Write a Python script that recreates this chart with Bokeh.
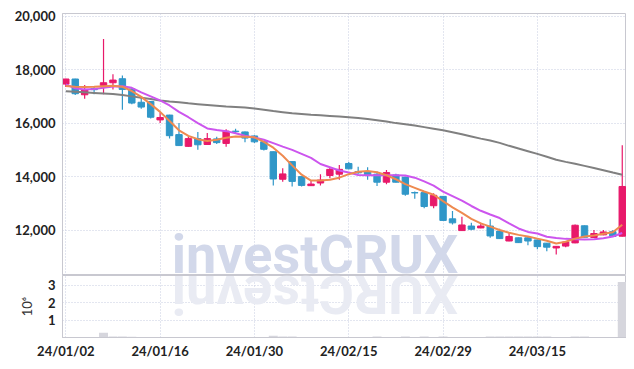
import math
from bokeh.plotting import figure
from bokeh.layouts import column
from bokeh.models import ColumnDataSource, Range1d, FixedTicker, NumeralTickFormatter, Label
from bokeh.embed import file_html
from bokeh.resources import INLINE

# ---------------- data ----------------
dates = ["24/01/02", "24/01/03", "24/01/04", "24/01/05", "24/01/08", "24/01/09", "24/01/10", "24/01/11", "24/01/12", "24/01/15",
         "24/01/16", "24/01/17", "24/01/18", "24/01/19", "24/01/22", "24/01/23", "24/01/24", "24/01/25", "24/01/26", "24/01/29",
         "24/01/30", "24/01/31", "24/02/01", "24/02/02", "24/02/05", "24/02/06", "24/02/07", "24/02/08", "24/02/13", "24/02/14",
         "24/02/15", "24/02/16", "24/02/19", "24/02/20", "24/02/21", "24/02/22", "24/02/23", "24/02/26", "24/02/27", "24/02/28",
         "24/02/29", "24/03/04", "24/03/05", "24/03/06", "24/03/07", "24/03/08", "24/03/11", "24/03/12", "24/03/13", "24/03/14",
         "24/03/15", "24/03/18", "24/03/19", "24/03/20", "24/03/21", "24/03/22", "24/03/25", "24/03/26", "24/03/27", "24/03/28"]

open_ = [17460, 17650, 17060, 17290, 17410, 17510, 17660, 17280, 16780, 16810,
         16120, 16300, 15570, 15130, 15420, 15200, 15410, 15240, 15700, 15670,
         15520, 15300, 14930, 13900, 14560, 14000, 13660, 13760, 14040, 14090,
         14490, 14190, 14190, 14090, 13790, 14060, 13980, 13400, 13400, 12910,
         13260, 12420, 11980, 12150, 12080, 12150, 11960, 11590, 11710, 11710,
         11630, 11510, 11330, 11400, 11520, 12160, 11720, 11820, 11940, 11770]
high = [17660, 17660, 17430, 17360, 19150, 17830, 17780, 17300, 17000, 16820,
        16400, 16310, 16000, 15510, 15670, 15630, 15490, 15770, 15790, 15690,
        15550, 15310, 14940, 14310, 14560, 14000, 13850, 14090, 14330, 14430,
        14550, 14370, 14350, 14190, 14250, 14110, 13990, 13440, 13410, 13380,
        13270, 12710, 12500, 12270, 12270, 12400, 12050, 11900, 11720, 11780,
        11650, 11520, 11400, 11560, 12210, 12170, 12000, 12000, 12000, 15170]
low = [17350, 17050, 16910, 17080, 17080, 17260, 16500, 16710, 16540, 16170,
       16000, 15420, 15150, 15120, 15000, 15200, 15220, 15120, 15610, 15280,
       15260, 14980, 13670, 13810, 13630, 13630, 13650, 13670, 13940, 13880,
       14270, 14110, 13880, 13650, 13710, 13780, 13280, 13170, 12820, 12820,
       12350, 12210, 11970, 11990, 12070, 11710, 11670, 11580, 11520, 11430,
       11280, 11210, 11090, 11360, 11510, 11720, 11710, 11810, 11750, 11760]
close = [17650, 17100, 17260, 17250, 17510, 17610, 17260, 16750, 16600, 16220,
         16210, 15530, 15160, 15420, 15190, 15420, 15270, 15700, 15680, 15440,
         15300, 15020, 13910, 14100, 13820, 13670, 13720, 13870, 14270, 14270,
         14290, 14140, 14040, 13790, 14150, 13790, 13340, 13390, 12880, 13300,
         12360, 12270, 12190, 12030, 12150, 11780, 11680, 11760, 11530, 11590,
         11380, 11360, 11390, 11550, 12180, 11730, 11870, 11930, 11760, 13630]
volume = [3000, 3000, 3000, 3000, 270000, 55000, 55000, 50000, 3000, 3000,
          3000, 3000, 3000, 3000, 3000, 3000, 3000, 3000, 3000, 3000,
          3000, 3000, 100000, 55000, 55000, 3000, 3000, 3000, 3000, 3000,
          3000, 3000, 3000, 55000, 3000, 3000, 55000, 3000, 55000, 3000,
          55000, 3000, 3000, 3000, 3000, 55000, 55000, 55000, 55000, 55000,
          55000, 55000, 3000, 3000, 55000, 55000, 3000, 3000, 3000, 3180000]
ma_short = [17390, 17360, 17350, 17360, 17380, 17400, 17360, 17200, 16980, 16710,
            16420, 16080, 15730, 15520, 15400, 15330, 15380, 15450, 15500, 15490,
            15470, 15300, 15080, 14780, 14420, 14070, 13850, 13850, 13880, 13960,
            14090, 14180, 14210, 14160, 14050, 13900, 13720, 13580, 13440, 13320,
            13080, 12850, 12640, 12420, 12250, 12130, 12000, 11900, 11820, 11760,
            11680, 11600, 11500, 11560, 11680, 11760, 11800, 11860, 11920, 12200]
ma_mid = [17450, 17300, 17260, 17280, 17320, 17370, 17380, 17320, 17150, 17000,
          16850, 16660, 16420, 16220, 16000, 15800, 15740, 15700, 15620, 15530,
          15460, 15380, 15250, 15120, 15000, 14850, 14700, 14470, 14350, 14230,
          14150, 14060, 14050, 14050, 14050, 14050, 14040, 13960, 13820, 13660,
          13440, 13270, 13100, 12900, 12720, 12580, 12450, 12250, 12060, 11930,
          11870, 11750, 11700, 11670, 11660, 11650, 11660, 11690, 11760, 11890]
ma_long = [17190, 17170, 17150, 17130, 17110, 17090, 17050, 17000, 16950, 16900,
           16850, 16810, 16780, 16740, 16710, 16680, 16650, 16620, 16600, 16580,
           16550, 16500, 16450, 16410, 16370, 16340, 16310, 16290, 16270, 16250,
           16220, 16190, 16150, 16110, 16060, 16000, 15960, 15910, 15850, 15790,
           15730, 15660, 15580, 15500, 15420, 15350, 15260, 15150, 15050, 14950,
           14850, 14740, 14630, 14550, 14480, 14400, 14320, 14240, 14150, 14070]
price_ticks = [12000, 14000, 16000, 18000, 20000]
volume_ticks = [1, 2, 3]
date_tick_idx = [0, 10, 20, 30, 40, 50]

# ---------------- styling ----------------
RED = "#e8196a"
BLUE = "#3097c8"
GRID = "#c6cce0"
FRAME = "#c8c8d0"
FONT = "Lato"

idx = list(range(len(dates)))
src = ColumnDataSource(dict(
    x=idx, high=high, low=low,
    top=[max(o, c) for o, c in zip(open_, close)],
    bottom=[min(o, c) for o, c in zip(open_, close)],
    color=[RED if c >= o else BLUE for o, c in zip(open_, close)],
    vol=[v / 1e6 for v in volume],
    ma_short=ma_short, ma_mid=ma_mid, ma_long=ma_long,
))

xr = Range1d(-0.35, 59.45)


def style_axis(ax):
    ax.axis_line_color = FRAME
    ax.major_tick_line_color = None
    ax.minor_tick_line_color = None
    ax.major_tick_out = 0
    ax.major_tick_in = 0
    ax.minor_tick_out = 0
    ax.minor_tick_in = 0
    ax.major_label_text_font = FONT
    ax.major_label_text_font_style = "bold"
    ax.major_label_text_font_size = "13px"
    ax.major_label_text_color = "#222222"


p = figure(width=626, height=275, x_range=xr, y_range=Range1d(10300, 20100),
           output_backend="svg", toolbar_location=None, x_axis_location=None,
           min_border_left=62, min_border_right=0, min_border_top=13, min_border_bottom=0)
p.outline_line_color = FRAME
p.background_fill_color = "white"
p.border_fill_color = "white"

p.yaxis.ticker = FixedTicker(ticks=price_ticks)
p.yaxis.formatter = NumeralTickFormatter(format="0,0")
p.xgrid.ticker = FixedTicker(ticks=date_tick_idx)
for g in (p.xgrid, p.ygrid):
    g.grid_line_color = GRID
    g.grid_line_dash = "1 2"
for ax in p.yaxis:
    style_axis(ax)
    ax.major_label_standoff = 7

wm = Label(x=11.24, y=11080, text="investCRUX", text_font="Roboto", text_font_style="bold",
           text_font_size="54px", text_color="#d2d8ea", text_baseline="alphabetic", level="underlay")
p.add_layout(wm)

p.segment(x0="x", y0="high", x1="x", y1="low", source=src, line_color="color", line_width=1.2)
p.vbar(x="x", top="top", bottom="bottom", width=0.68, source=src, fill_color="color", line_color="color")
p.line("x", "ma_long", source=src, line_color="#808080", line_width=2)
p.line("x", "ma_mid", source=src, line_color="#cc55ee", line_width=2)
p.line("x", "ma_short", source=src, line_color="#ee8a50", line_width=2)

pv = figure(width=626, height=86, x_range=xr, y_range=Range1d(0, 3.55),
            output_backend="svg", toolbar_location=None,
            min_border_left=62, min_border_right=0, min_border_top=0, min_border_bottom=21)
pv.outline_line_color = FRAME
pv.border_fill_color = "white"
pv.xaxis.ticker = FixedTicker(ticks=date_tick_idx)
pv.xaxis.major_label_overrides = {i: dates[i] for i in date_tick_idx}
pv.yaxis.ticker = FixedTicker(ticks=volume_ticks)
pv.yaxis.axis_label = "10⁶"
pv.yaxis.axis_label_text_font = FONT
pv.yaxis.axis_label_text_font_style = "normal"
pv.yaxis.axis_label_text_font_size = "13px"
pv.yaxis.axis_label_text_color = "#333333"
pv.yaxis.axis_label_standoff = 10
pv.xgrid.ticker = FixedTicker(ticks=date_tick_idx)
for g in (pv.xgrid, pv.ygrid):
    g.grid_line_color = GRID
    g.grid_line_dash = "1 2"
for ax in list(pv.xaxis) + list(pv.yaxis):
    style_axis(ax)
pv.xaxis.major_label_standoff = 5
pv.yaxis.major_label_standoff = 7

refl = Label(x=11.24, y=2.49, text="XURCtsevni", angle=math.pi, text_align="right",
             text_baseline="alphabetic", text_font="Roboto", text_font_style="bold",
             text_font_size="54px", text_color="#e9ebf3", level="underlay")
pv.add_layout(refl)

pv.vbar(x="x", top="vol", width=0.95, source=src, fill_color="#d6d6dd", line_color=None)

layout = column(p, pv, spacing=0)
open("out.html", "w").write(file_html(layout, INLINE))
